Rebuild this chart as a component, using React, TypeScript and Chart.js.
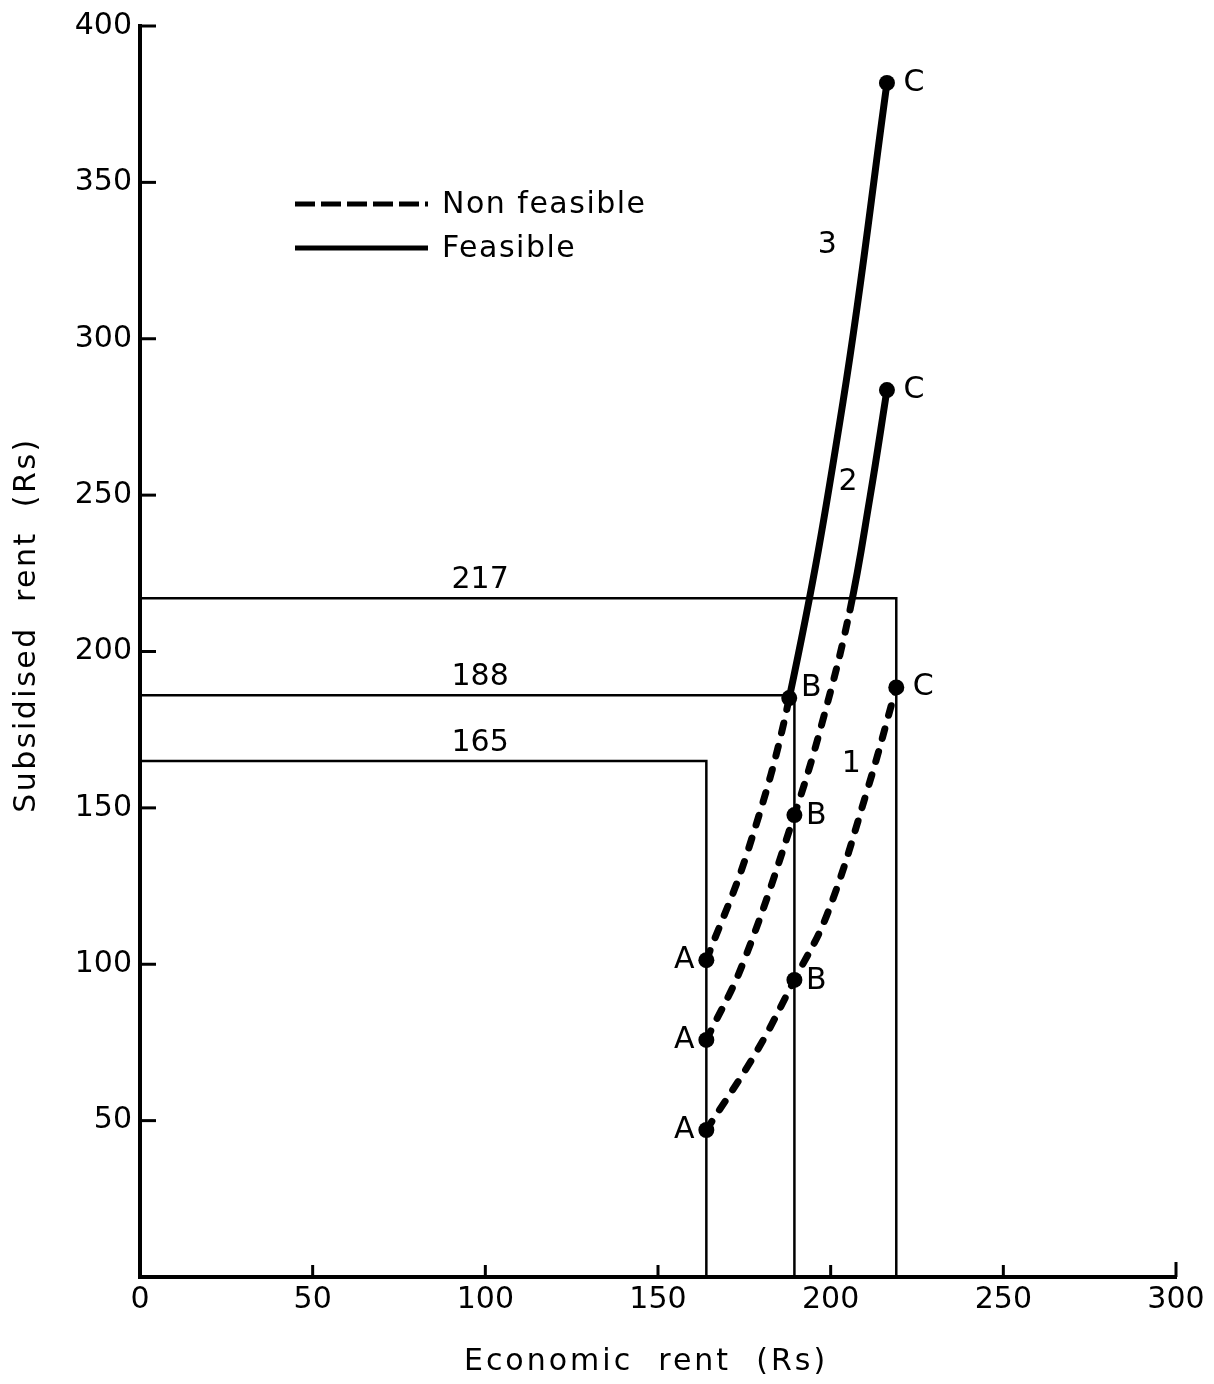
import React, { useEffect, useRef } from 'react';
import { Chart, registerables } from 'chart.js';

Chart.register(...registerables);

// ---- Axis ticks ----
const xTicks = [0, 50, 100, 150, 200, 250, 300];
const yTicks = [50, 100, 150, 200, 250, 300, 350, 400];

// ---- Curve 1 (non feasible throughout) ----
const curve1X = [164, 178.5, 189.5, 199, 210.8, 219];
const curve1Y = [47, 72, 95, 116, 156.4, 188.5];
const curve1Marks = ['A', '', 'B', '', '', 'C'];

// ---- Curve 2 ----
const curve2X = [164, 174.5, 189.5, 197.5, 205.6, 211.4, 216.3];
const curve2Y = [75.8, 100, 147.7, 177.1, 213.3, 249.4, 283.6];
const curve2Marks = ['A', '', 'B', '', '', '', 'C'];

// ---- Curve 3 ----
const curve3X = [164, 176.1, 188, 203.6, 216.3];
const curve3Y = [101.3, 136.5, 185.1, 280, 381.8];
const curve3Marks = ['A', '', 'B', '', 'C'];

// index of the first point from which each curve is feasible (solid)
const solidFrom = [Infinity, 4, 2];
const curveNames = ['1', '2', '3'];
const curveNameX = [206, 205, 199];
const curveNameY = [164, 254, 330];

// ---- Reference lines (subsidised rent levels / economic rent) ----
const refLevels = [165, 186, 217];
const refLevelLabels = ['165', '188', '217'];
const refEconomic = [164, 189.5, 219];
const refLabelX = 98.5;

const FONT = '"DejaVu Sans", sans-serif';

const curves = [
  { xs: curve1X, ys: curve1Y, marks: curve1Marks },
  { xs: curve2X, ys: curve2Y, marks: curve2Marks },
  { xs: curve3X, ys: curve3Y, marks: curve3Marks },
];

const annotate = {
  id: 'annotate',
  afterDatasetsDraw(chart: any) {
    const { ctx, chartArea } = chart;
    const xs = chart.scales.x;
    const ys = chart.scales.y;
    ctx.save();
    ctx.strokeStyle = '#000';
    ctx.fillStyle = '#000';
    ctx.lineCap = 'butt';
    // inward ticks
    ctx.lineWidth = 3;
    yTicks.forEach((v) => {
      const py = ys.getPixelForValue(v);
      ctx.beginPath();
      ctx.moveTo(chartArea.left, py);
      ctx.lineTo(chartArea.left + 16, py);
      ctx.stroke();
    });
    xTicks.slice(1).forEach((v) => {
      const px = xs.getPixelForValue(v);
      ctx.beginPath();
      ctx.moveTo(px, chartArea.bottom);
      ctx.lineTo(px, chartArea.bottom - (v === 300 ? 15 : 12));
      ctx.stroke();
    });

    ctx.font = `30px ${FONT}`;
    ctx.textBaseline = 'middle';
    ctx.textAlign = 'center';
    // point letters
    curves.forEach((c, ci) => {
      c.marks.forEach((m, i) => {
        if (!m) return;
        const px = xs.getPixelForValue(c.xs[i]);
        const py = ys.getPixelForValue(c.ys[i]);
        let dx = 0;
        let dy = 0;
        if (m === 'A') dx = -22;
        if (m === 'B') { dx = 22; dy = ci === 2 ? -10 : 1; }
        if (m === 'C') dx = 27;
        ctx.fillText(m, px + dx, py + dy);
      });
    });
    // curve numbers
    curveNames.forEach((n, i) => {
      ctx.fillText(n, xs.getPixelForValue(curveNameX[i]), ys.getPixelForValue(curveNameY[i]));
    });
    // level labels
    refLevels.forEach((lv, i) => {
      ctx.fillText(refLevelLabels[i], xs.getPixelForValue(refLabelX), ys.getPixelForValue(lv) - 18);
    });

    // legend
    ctx.lineWidth = 5;
    ctx.setLineDash([20, 6]);
    ctx.beginPath();
    ctx.moveTo(295, 204);
    ctx.lineTo(428, 204);
    ctx.stroke();
    ctx.setLineDash([]);
    ctx.beginPath();
    ctx.moveTo(295, 248);
    ctx.lineTo(428, 248);
    ctx.stroke();
    ctx.textAlign = 'left';
    (ctx as any).letterSpacing = '1.5px';
    ctx.fillText('Non feasible', 442, 205);
    ctx.fillText('Feasible', 442, 249);

    // axis titles
    (ctx as any).letterSpacing = '3px';
    ctx.textAlign = 'center';
    ctx.fillText('Economic  rent  (Rs)', 646, 1362);
    ctx.save();
    ctx.translate(27, 625);
    ctx.rotate(-Math.PI / 2);
    (ctx as any).letterSpacing = '2.5px';
    ctx.fillText('Subsidised  rent  (Rs)', 0, 0);
    ctx.restore();
    ctx.restore();
  },
};

export default function App() {
  const ref = useRef<HTMLCanvasElement | null>(null);
  useEffect(() => {
    if (!ref.current) return;
    Chart.defaults.font.family = FONT;
    Chart.defaults.color = '#000';
    const refSets = refLevels.map((lv, i) => ({
      label: 'ref' + i,
      data: [
        { x: 0, y: lv },
        { x: refEconomic[i], y: lv },
        { x: refEconomic[i], y: 0 },
      ],
      borderColor: '#000',
      borderWidth: 2.5,
      pointRadius: 0,
      tension: 0,
      order: 2,
    }));
    const curveSets = curves.map((c, ci) => ({
      label: 'curve' + (ci + 1),
      data: c.xs.map((x, i) => ({ x, y: c.ys[i] })),
      borderColor: '#000',
      backgroundColor: '#000',
      borderWidth: 7,
      borderCapStyle: 'round' as const,
      tension: 0.4,
      pointRadius: (ctx: any) => (c.marks[ctx.dataIndex] ? 8 : 0),
      pointBackgroundColor: '#000',
      pointBorderWidth: 0,
      segment: {
        borderDash: (ctx: any) => (ctx.p0DataIndex >= solidFrom[ci] ? [] : [10, 14]),
      },
      order: 1,
    }));
    const chart = new Chart(ref.current, {
      type: 'line',
      data: { datasets: [...refSets, ...curveSets] as any },
      options: {
        animation: false,
        responsive: false,
        events: [],
        layout: { padding: { left: 0, right: 38, top: 24, bottom: 0 } },
        plugins: { legend: { display: false }, tooltip: { enabled: false } },
        scales: {
          x: {
            type: 'linear',
            min: 0,
            max: 300,
            afterFit: (s: any) => { s.height = 107; },
            afterBuildTicks: (s: any) => { s.ticks = xTicks.map((v) => ({ value: v })); },
            ticks: { font: { size: 30 }, color: '#000', padding: 5, maxRotation: 0, autoSkip: false },
            grid: { display: false, drawTicks: false },
            border: { display: true, width: 4, color: '#000' },
          },
          y: {
            type: 'linear',
            min: 0,
            max: 400,
            afterFit: (s: any) => { s.width = 140; },
            afterBuildTicks: (s: any) => { s.ticks = yTicks.map((v) => ({ value: v })); },
            ticks: { font: { size: 30 }, color: '#000', padding: 8, autoSkip: false },
            grid: { display: false, drawTicks: false },
            border: { display: true, width: 4, color: '#000' },
          },
        },
      },
      plugins: [annotate],
    });
    return () => chart.destroy();
  }, []);
  return (
    <div style={{ position: 'absolute', left: 0, top: 0, width: 1214, height: 1384, background: '#fff' }}>
      <canvas ref={ref} width={1214} height={1384} style={{ width: 1214, height: 1384 }} />
    </div>
  );
}
